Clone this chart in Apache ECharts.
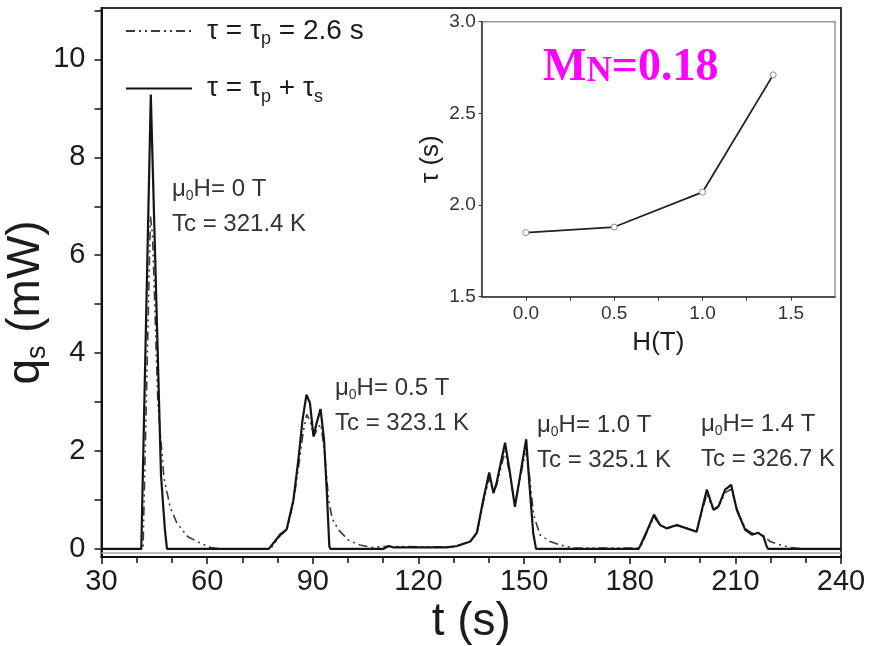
<!DOCTYPE html>
<html>
<head>
<meta charset="utf-8">
<script src="https://cdn.jsdelivr.net/npm/echarts@6/dist/echarts.min.js"></script>
<style>html,body{margin:0;padding:0;background:#fff}#c{width:872px;height:646px}</style>
</head>
<body>
<div id="c"></div>
<script>
// ---- data ----
const seriesNames = ['τ = τp = 2.6 s', 'τ = τp + τs'];
const solidT = [30, 41.3, 44.0, 46.9, 48.0, 48.6, 77.5, 78.0, 80.7, 82.6, 84.5, 85.9, 87.1, 88.2, 89.2, 90.2, 91.1, 92.2, 93.2, 94.0, 94.7, 95.0, 110, 111.5, 113, 128, 131, 134.7, 136.6, 138.4, 140.1, 141.3, 142.2, 144.6, 146.0, 147.4, 149.3, 150.6, 151.5, 152.6, 153.4, 182.5, 182.9, 184.8, 186.9, 188.6, 190.5, 193.4, 196.2, 199.0, 200.5, 201.9, 203.8, 205.2, 207.1, 208.8, 210.4, 212.8, 214.7, 216.5, 218.0, 218.9, 219.3, 240];
const solidQ = [0, 0, 9.28, 1.5, 0.4, 0, 0, 0.02, 0.29, 0.4, 1.0, 1.82, 2.64, 3.15, 2.98, 2.3, 2.57, 2.86, 2.23, 1.14, 0.05, 0, 0, 0.06, 0.03, 0.03, 0.06, 0.15, 0.33, 1.0, 1.56, 1.14, 1.35, 2.17, 1.55, 0.86, 1.68, 2.24, 1.34, 0.32, 0, 0, 0.05, 0.35, 0.70, 0.49, 0.42, 0.49, 0.42, 0.35, 0.80, 1.21, 0.80, 0.87, 1.21, 1.31, 0.80, 0.39, 0.29, 0.33, 0.25, 0.05, 0, 0];
const dashT = [30, 41.8, 43.9, 44.5, 46.0, 47.7, 49.5, 51.4, 54.5, 58.0, 61.0, 64, 77.5, 78.5, 80.7, 82.6, 84.5, 86.0, 87.3, 88.3, 89.3, 90.3, 91.2, 92.3, 93.3, 94.5, 95.5, 97.3, 100.1, 103.4, 107, 110, 130, 131.5, 134.7, 136.6, 138.4, 140.1, 141.3, 142.2, 144.6, 146.0, 147.4, 149.3, 150.6, 151.6, 152.7, 154.5, 157.4, 160.2, 164, 182.3, 183.2, 184.8, 186.9, 188.6, 190.5, 193.4, 196.2, 199.0, 200.5, 201.9, 203.8, 205.2, 207.1, 208.8, 210.4, 212.8, 214.7, 216.5, 218.0, 219.9, 222.8, 225.6, 229, 240];
const dashQ = [0, 0, 6.8, 6.4, 3.0, 1.47, 0.85, 0.53, 0.25, 0.12, 0.03, 0, 0, 0.05, 0.27, 0.38, 0.95, 1.7, 2.4, 2.75, 2.6, 2.3, 2.45, 2.55, 2.0, 1.0, 0.62, 0.39, 0.18, 0.08, 0.03, 0.05, 0.04, 0.08, 0.15, 0.32, 0.95, 1.45, 1.15, 1.3, 2.0, 1.5, 0.9, 1.6, 2.05, 1.45, 0.7, 0.29, 0.15, 0.08, 0.02, 0.02, 0.06, 0.33, 0.65, 0.49, 0.42, 0.48, 0.42, 0.36, 0.75, 1.12, 0.8, 0.85, 1.15, 1.22, 0.82, 0.42, 0.32, 0.33, 0.27, 0.15, 0.08, 0.03, 0, 0];
const xTicksMain = [30, 60, 90, 120, 150, 180, 210, 240];
const yLabelsMain = [0, 2, 4, 6, 8, 10];
const yTicksMain = [0, 1, 2, 3, 4, 5, 6, 7, 8, 9, 10, 11];
const insetH = [0, 0.5, 1.0, 1.4];
const insetTau = [1.85, 1.88, 2.07, 2.71];
const insetXLabels = [0, 0.5, 1.0, 1.5];
const insetXTicks = [0, 0.25, 0.5, 0.75, 1.0, 1.25, 1.5];
const fieldLabels = ['0', '0.5', '1.0', '1.4'];
const tcLabels = ['321.4', '323.1', '325.1', '326.7'];

// ---- chart ----
const FF = "'Liberation Sans', Arial, sans-serif";
const SERIF = "'Liberation Serif', 'Times New Roman', serif";
const TXT = '#1c1c1c';
const chart = echarts.init(document.getElementById('c'), null, {renderer: 'canvas'});
const zip = (a, b) => a.map((v, i) => [v, b[i]]);

const annPos = [[172, 189], [335, 388], [537, 425], [701, 424]];
const annotations = [];
fieldLabels.forEach((f, i) => {
  const [x, y] = annPos[i];
  annotations.push({
    type: 'text', x: x, y: y, z: 50,
    style: {
      text: '{a|μ}{s|0}{a|H= ' + f + ' T}',
      verticalAlign: 'middle',
      rich: {
        a: {fontSize: 24, fontFamily: FF, fill: '#333'},
        s: {fontSize: 14, fontFamily: FF, fill: '#333', padding: [14, 0, 0, 0]}
      }
    }
  });
  annotations.push({
    type: 'text', x: x, y: y + 35, z: 50,
    style: {text: 'Tc = ' + tcLabels[i] + ' K', verticalAlign: 'middle', fontSize: 24, fontFamily: FF, fill: '#333'}
  });
});
annotations.push({
  type: 'text', x: 543, y: 68, z: 50,
  style: {
    text: '{m|M}{n|N}{m|=0.18}',
    verticalAlign: 'middle',
    rich: {
      m: {fontSize: 46, fontWeight: 'bold', fontFamily: SERIF, fill: '#ff00ff'},
      n: {fontSize: 35, fontWeight: 'bold', fontFamily: SERIF, fill: '#ff00ff', padding: [8, 0, 0, 0]}
    }
  }
});

const legendRich = {
  t: {fontSize: 28, fontFamily: FF, color: TXT},
  sub: {fontSize: 18, fontFamily: FF, color: TXT, padding: [17, 0, 0, 0]}
};

const option = {
  animation: false,
  backgroundColor: '#fff',
  grid: [
    {left: 101.5, right: 31, top: 8, bottom: 89, show: true, borderColor: '#333', borderWidth: 2,
      containLabel: false, outerBoundsMode: 'none'},
    {left: 481.7, right: 37, top: 21.7, bottom: 349.3, show: true, borderColor: '#999', borderWidth: 1.5,
      containLabel: false, outerBoundsMode: 'none'}
  ],
  legend: {
    orient: 'vertical', left: 120, top: 12, itemWidth: 66, itemHeight: 14, itemGap: 26,
    data: seriesNames,
    itemStyle: {opacity: 0},
    formatter: function (name) {
      if (name === seriesNames[0]) return '{t|τ = τ}{sub|p}{t| = 2.6 s}';
      return '{t|τ = τ}{sub|p}{t| + τ}{sub|s}';
    },
    textStyle: {rich: legendRich, padding: [0, 0, 0, 10]}
  },
  xAxis: [
    {
      type: 'value', gridIndex: 0, min: 30, max: 240, interval: 30,
      axisLine: {show: true, onZero: false, lineStyle: {color: '#111', width: 2}},
      axisTick: {show: true, inside: false, length: 7, lineStyle: {color: '#111', width: 1.5}},
      minorTick: {show: true, splitNumber: 3, length: 6, lineStyle: {color: '#111', width: 1.5}},
      axisLabel: {fontSize: 29, color: TXT, margin: 10, fontFamily: FF},
      splitLine: {show: false},
      name: 't (s)', nameLocation: 'middle', nameGap: 42, nameMoveOverlap: false,
      nameTextStyle: {fontSize: 46, color: TXT, fontFamily: FF}
    },
    {
      type: 'value', gridIndex: 1, min: -0.25, max: 1.75,
      axisLine: {show: true, onZero: false, lineStyle: {color: '#333', width: 1.5}},
      axisTick: {show: true, inside: false, length: 4, customValues: insetXTicks, lineStyle: {color: '#333'}},
      axisLabel: {customValues: insetXLabels, fontSize: 19, color: '#333', margin: 8, fontFamily: FF,
        formatter: v => v.toFixed(1)},
      splitLine: {show: false},
      name: 'H(T)', nameLocation: 'middle', nameGap: 33, nameMoveOverlap: false,
      nameTextStyle: {fontSize: 26, color: TXT, fontFamily: FF}
    }
  ],
  yAxis: [
    {
      type: 'value', gridIndex: 0, min: -0.165, max: 11.05,
      axisLine: {show: true, onZero: false, lineStyle: {color: '#111', width: 2}},
      axisTick: {show: true, inside: false, length: 7, customValues: yTicksMain, lineStyle: {color: '#111', width: 1.5}},
      axisLabel: {customValues: yLabelsMain, fontSize: 29, color: TXT, margin: 16, fontFamily: FF},
      splitLine: {show: false},
      name: '{q|q}{s|s}{q| (mW)}', nameLocation: 'middle', nameGap: 50, nameMoveOverlap: false,
      nameTextStyle: {padding: [0, 40, 0, 0], rich: {
        q: {fontSize: 46, color: TXT, fontFamily: FF},
        s: {fontSize: 27, color: TXT, fontFamily: FF, padding: [24, 0, 0, 0]}
      }}
    },
    {
      type: 'value', gridIndex: 1, min: 1.5, max: 3.0, interval: 0.5,
      axisLine: {show: true, onZero: false, lineStyle: {color: '#333', width: 1.5}},
      axisTick: {show: true, inside: false, length: 3, lineStyle: {color: '#333'}},
      axisLabel: {fontSize: 19, color: '#333', margin: 6, fontFamily: FF, formatter: v => v.toFixed(1)},
      splitLine: {show: false},
      name: 'τ (s)', nameLocation: 'middle', nameGap: 38, nameMoveOverlap: false,
      nameTextStyle: {fontSize: 26, color: TXT, fontFamily: FF}
    }
  ],
  series: [
    {
      name: seriesNames[0], type: 'line', xAxisIndex: 0, yAxisIndex: 0,
      data: zip(dashT, dashQ), symbol: 'none', z: 3,
      lineStyle: {color: '#3a3a3a', width: 1.6, type: [9, 4, 2, 4, 2, 4]},
      itemStyle: {color: '#3a3a3a'},
      markLine: {silent: true, symbol: 'none', label: {show: false},
        lineStyle: {color: '#aaa', width: 1.5, type: 'solid'},
        data: [{yAxis: -0.08}]}
    },
    {
      name: seriesNames[1], type: 'line', xAxisIndex: 0, yAxisIndex: 0,
      data: zip(solidT, solidQ), symbol: 'none', z: 4,
      lineStyle: {color: '#151515', width: 2.2},
      itemStyle: {color: '#151515'}
    },
    {
      name: 'inset', type: 'line', xAxisIndex: 1, yAxisIndex: 1,
      data: zip(insetH, insetTau), symbol: 'circle', symbolSize: 6, z: 5,
      lineStyle: {color: '#222', width: 1.8},
      itemStyle: {color: '#fff', borderColor: '#888', borderWidth: 1}
    }
  ],
  graphic: annotations
};
chart.setOption(option);
</script>
</body>
</html>
